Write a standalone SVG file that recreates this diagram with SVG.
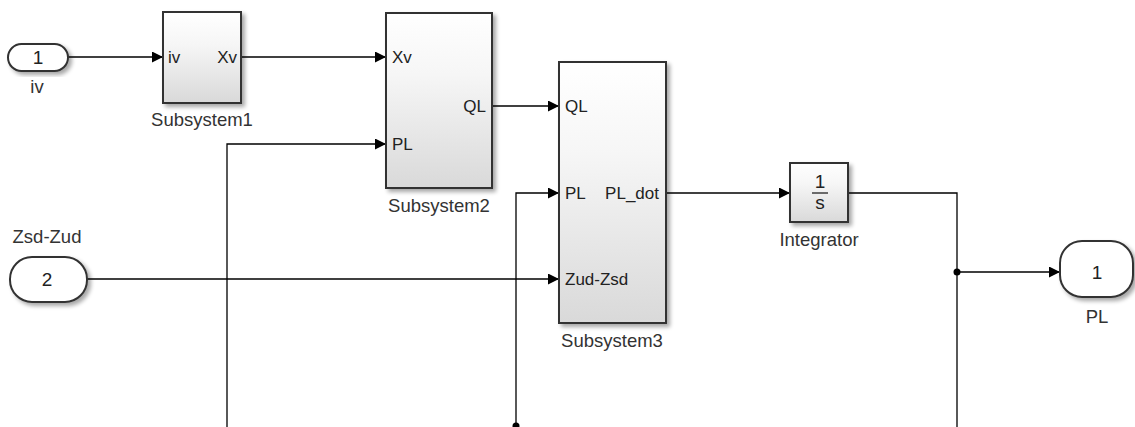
<svg xmlns="http://www.w3.org/2000/svg" width="1135" height="427" viewBox="0 0 1135 427">
<defs>
<linearGradient id="g" x1="0" y1="0" x2="0" y2="1">
<stop offset="0" stop-color="#ffffff"/>
<stop offset="0.35" stop-color="#f6f6f6"/>
<stop offset="1" stop-color="#d9d9d9"/>
</linearGradient>
<filter id="sh" x="-20%" y="-20%" width="140%" height="140%">
<feGaussianBlur in="SourceAlpha" stdDeviation="2"/>
<feOffset dx="3" dy="3"/>
<feComponentTransfer><feFuncA type="linear" slope="0.35"/></feComponentTransfer>
<feMerge><feMergeNode/><feMergeNode in="SourceGraphic"/></feMerge>
</filter>
<marker id="ar" viewBox="0 0 10 10" refX="10" refY="5" markerWidth="13" markerHeight="11" markerUnits="userSpaceOnUse" orient="auto">
<path d="M0,0 L10,5 L0,10 z" fill="#000"/>
</marker>
</defs>
<style>
.blk{fill:url(#g);stroke:#333;stroke-width:2;filter:url(#sh)}
.prt{fill:#fff;stroke:#333;stroke-width:2;filter:url(#sh)}
.ln{fill:none;stroke:#000;stroke-width:1.3}
.nm{font-family:"Liberation Sans",Arial,sans-serif;font-size:18.5px;fill:#333;text-anchor:middle}
.pl{font-family:"Liberation Sans",Arial,sans-serif;font-size:17px;fill:#222}
.num{font-family:"Liberation Sans",Arial,sans-serif;font-size:19px;fill:#222;text-anchor:middle}
</style>
<rect width="1135" height="427" fill="#fff"/>
<g id="connectors">
<path class="ln" d="M68,57 H163" marker-end="url(#ar)"/>
<path class="ln" d="M241,57 H386" marker-end="url(#ar)"/>
<path class="ln" d="M227,427 V144 H386" marker-end="url(#ar)"/>
<path class="ln" d="M492,106 H559" marker-end="url(#ar)"/>
<path class="ln" d="M516,427 V193 H559" marker-end="url(#ar)"/>
<path class="ln" d="M87,279 H559" marker-end="url(#ar)"/>
<path class="ln" d="M666,193 H790" marker-end="url(#ar)"/>
<path class="ln" d="M848,193 H957 V427"/>
<path class="ln" d="M957,272 H1060" marker-end="url(#ar)"/>
<circle cx="957" cy="272" r="3.5" fill="#000"/>
<circle cx="516" cy="426" r="3.5" fill="#000"/>
</g>
<g id="in1">
<rect class="prt" x="8" y="44" width="60" height="27" rx="13.5"/>
<text class="num" x="38" y="64">1</text>
<text class="nm" x="37" y="93">iv</text>
</g>
<g id="in2">
<rect class="prt" x="10" y="257" width="77" height="45" rx="22"/>
<text class="num" x="47" y="286">2</text>
<text class="nm" x="47" y="243">Zsd-Zud</text>
</g>
<g id="subsystem1">
<rect class="blk" x="163" y="12" width="78" height="91"/>
<text class="pl" x="168" y="63">iv</text>
<text class="pl" x="237" y="63" text-anchor="end">Xv</text>
<text class="nm" x="202" y="126">Subsystem1</text>
</g>
<g id="subsystem2">
<rect class="blk" x="386" y="13" width="106" height="175"/>
<text class="pl" x="392" y="63">Xv</text>
<text class="pl" x="392" y="150">PL</text>
<text class="pl" x="486" y="112" text-anchor="end">QL</text>
<text class="nm" x="439" y="212">Subsystem2</text>
</g>
<g id="subsystem3">
<rect class="blk" x="559" y="62" width="107" height="261"/>
<text class="pl" x="565" y="112">QL</text>
<text class="pl" x="565" y="199">PL</text>
<text class="pl" x="659" y="199" text-anchor="end">PL_dot</text>
<text class="pl" x="565" y="285">Zud-Zsd</text>
<text class="nm" x="612" y="347">Subsystem3</text>
</g>
<g id="integrator">
<rect class="blk" x="790" y="163" width="58" height="59"/>
<text class="num" x="820" y="188">1</text>
<line x1="812" y1="193" x2="828" y2="193" stroke="#222" stroke-width="1.3"/>
<text class="num" x="820" y="209">s</text>
<text class="nm" x="819" y="246">Integrator</text>
</g>
<g id="out1">
<rect class="prt" x="1060" y="241" width="73" height="56" rx="22"/>
<text class="num" x="1097" y="279">1</text>
<text class="nm" x="1097" y="323">PL</text>
</g>
</svg>
